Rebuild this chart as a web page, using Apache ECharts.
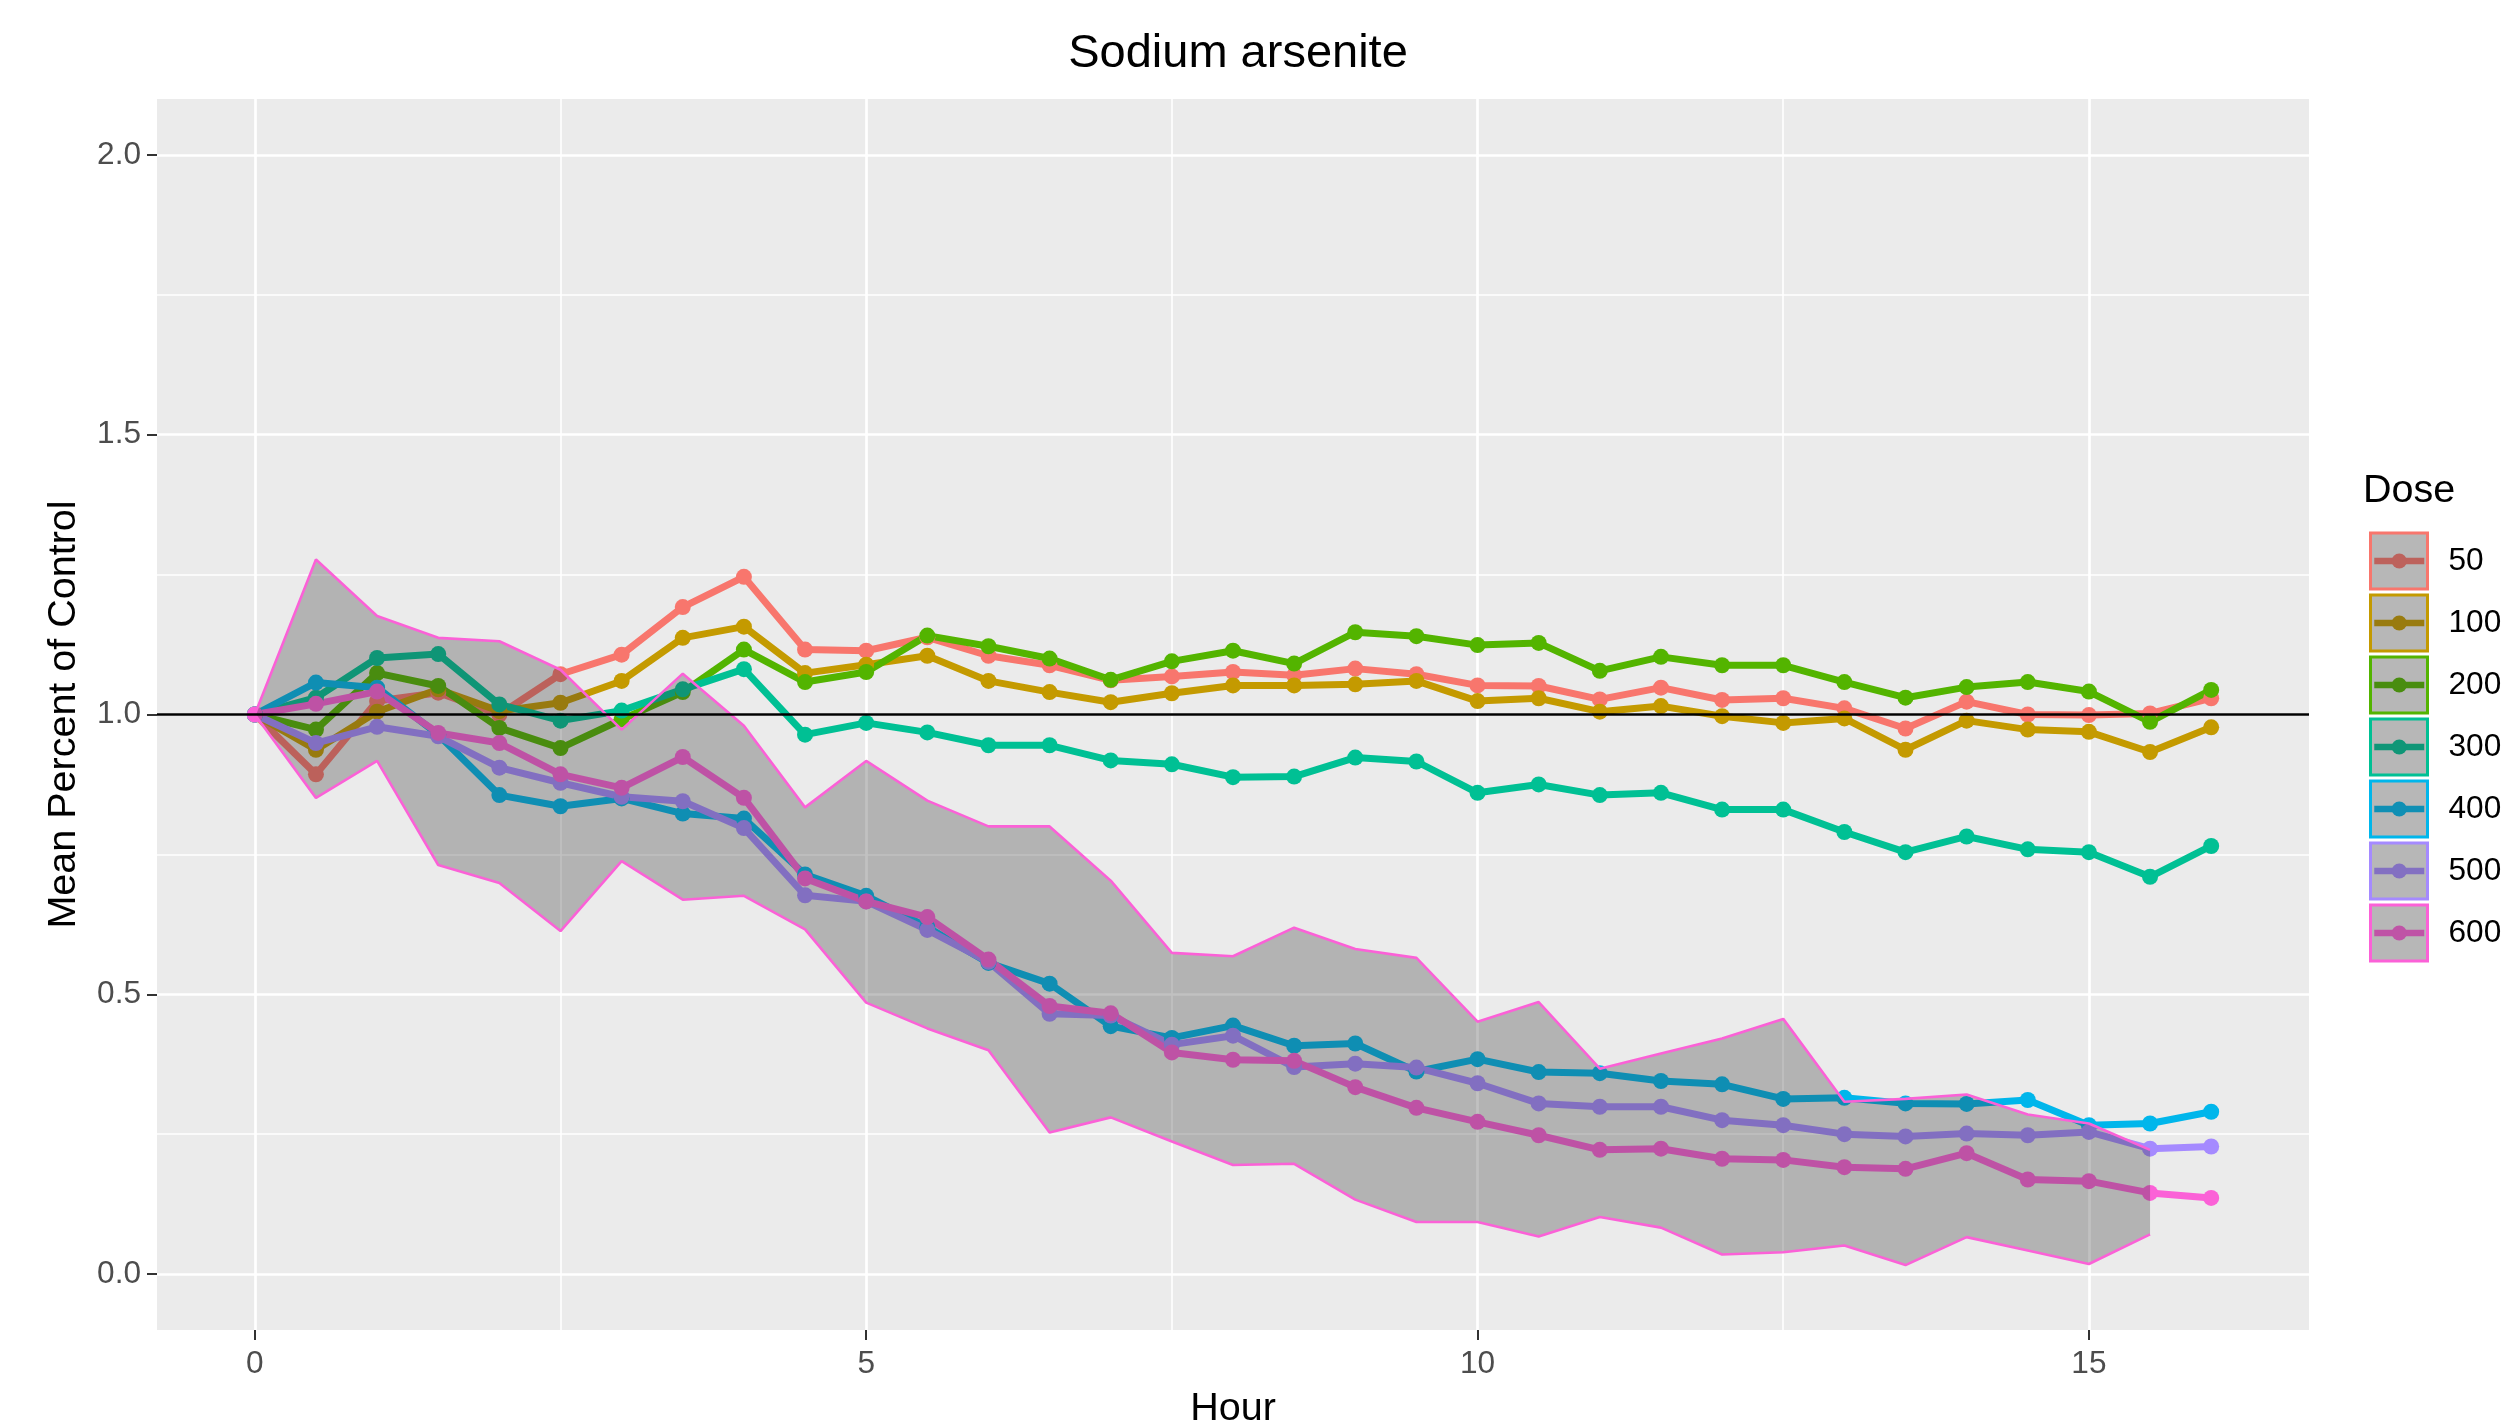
<!DOCTYPE html>
<html><head><meta charset="utf-8">
<script src="https://cdn.jsdelivr.net/npm/echarts@6/dist/echarts.min.js"></script>
<style>html,body{margin:0;padding:0;background:#fff}#c{width:2506px;height:1424px}</style>
</head><body><div id="c"></div>
<script>
const hours = [0,0.5,1,1.5,2,2.5,3,3.5,4,4.5,5,5.5,6,6.5,7,7.5,8,8.5,9,9.5,10,10.5,11,11.5,12,12.5,13,13.5,14,14.5,15,15.5,16];
const doseNames = ['50','100','200','300','400','500','600'];
const dose50  = [1.0,0.893,1.024,1.039,1.0,1.072,1.107,1.192,1.246,1.116,1.114,1.138,1.105,1.088,1.061,1.068,1.076,1.07,1.082,1.072,1.052,1.051,1.027,1.048,1.026,1.029,1.011,0.975,1.023,1.0,0.999,1.002,1.029];
const dose100 = [1.0,0.937,1.005,1.045,1.006,1.021,1.06,1.137,1.157,1.074,1.089,1.105,1.06,1.04,1.022,1.038,1.052,1.052,1.054,1.06,1.024,1.029,1.005,1.015,0.997,0.985,0.993,0.937,0.989,0.973,0.969,0.933,0.977];
const dose200 = [1.0,0.973,1.074,1.051,0.976,0.94,0.991,1.04,1.116,1.058,1.076,1.141,1.122,1.10,1.062,1.095,1.114,1.091,1.147,1.14,1.124,1.128,1.078,1.103,1.088,1.088,1.058,1.03,1.049,1.058,1.041,0.987,1.044];
const dose300 = [1.0,1.03,1.101,1.108,1.018,0.989,1.007,1.045,1.081,0.964,0.985,0.968,0.945,0.945,0.918,0.911,0.888,0.889,0.923,0.916,0.86,0.875,0.856,0.86,0.83,0.83,0.79,0.754,0.782,0.759,0.754,0.71,0.765];
const dose400 = [1.0,1.057,1.048,0.964,0.856,0.836,0.85,0.823,0.814,0.714,0.676,0.62,0.556,0.519,0.443,0.422,0.444,0.408,0.412,0.362,0.384,0.361,0.359,0.345,0.339,0.313,0.315,0.305,0.304,0.311,0.266,0.269,0.29];
const dose500 = [1.0,0.949,0.978,0.961,0.905,0.878,0.853,0.845,0.797,0.677,0.666,0.615,0.558,0.465,0.462,0.41,0.426,0.37,0.376,0.369,0.341,0.305,0.299,0.299,0.275,0.266,0.25,0.246,0.251,0.248,0.254,0.224,0.228];
const dose600 = [1.0,1.019,1.041,0.967,0.949,0.893,0.869,0.924,0.851,0.707,0.666,0.638,0.562,0.479,0.466,0.396,0.383,0.381,0.334,0.297,0.272,0.248,0.222,0.224,0.206,0.204,0.191,0.188,0.216,0.169,0.166,0.145,0.136];
const ribbonHours = [0,0.5,1,1.5,2,2.5,3,3.5,4,4.5,5,5.5,6,6.5,7,7.5,8,8.5,9,9.5,10,10.5,11,11.5,12,12.5,13,13.5,14,14.5,15,15.5];
const ribbonUpper = [1.0,1.277,1.176,1.137,1.131,1.08,0.973,1.073,0.98,0.834,0.917,0.846,0.80,0.80,0.703,0.574,0.568,0.619,0.581,0.565,0.451,0.486,0.367,0.394,0.421,0.456,0.308,0.313,0.321,0.285,0.269,0.222];
const ribbonLower = [1.0,0.851,0.917,0.731,0.699,0.613,0.738,0.669,0.676,0.616,0.485,0.439,0.40,0.253,0.28,0.237,0.195,0.197,0.133,0.093,0.093,0.067,0.102,0.083,0.035,0.039,0.051,0.016,0.066,0.042,0.018,0.071];
const xMajorTicks = [0,5,10,15];
const xMinorTicks = [2.5,7.5,12.5];
const yMajorTicks = [0,0.5,1,1.5,2];
const yTickLabels = ['0.0','0.5','1.0','1.5','2.0'];
const yMinorTicks = [0.25,0.75,1.25,1.75];
const refLine = [1];

const doseValues = [dose50,dose100,dose200,dose300,dose400,dose500,dose600];
const colors = ['#F8766D','#C49A00','#53B400','#00C094','#00B6EB','#A58AFF','#FB61D7'];
const muted  = ['#BD625C','#997B0F','#498D0F','#0F9677','#0F8FB4','#8370C2','#BF53A6'];
const FONT = "'Liberation Sans', Arial, sans-serif";

const chart = echarts.init(document.getElementById('c'), null, {renderer:'canvas'});

const lineSeries = doseNames.map((n,i)=>({
  type:'line', name:n,
  data: hours.map((h,j)=>[h, doseValues[i][j]]),
  symbol:'circle', symbolSize:16, showSymbol:true,
  lineStyle:{width:7, color:colors[i]},
  itemStyle:{color:colors[i]},
  z:2, silent:true, emphasis:{disabled:true}
}));

const ribbon = {
  type:'custom', name:'ribbon', silent:true, z:3,
  data: ribbonHours.map((h,i)=>[h, ribbonLower[i], ribbonUpper[i]]),
  encode:{x:0, y:[1,2]},
  renderItem:(params, api)=>{
    if (params.dataIndex !== 0) return null;
    const top = ribbonHours.map((h,i)=>api.coord([h, ribbonUpper[i]]));
    const bot = ribbonHours.map((h,i)=>api.coord([h, ribbonLower[i]])).reverse();
    return {type:'polygon', shape:{points: top.concat(bot)}, style:{fill:'rgba(51,51,51,0.3)'}};
  }
};
const edgeUpper = {type:'line', name:'edgeUpper', data: ribbonHours.map((h,i)=>[h, ribbonUpper[i]]),
  symbol:'none', lineStyle:{color:'#FB61D7', width:2.6}, z:4, silent:true};
const edgeLower = {type:'line', name:'edgeLower', data: ribbonHours.map((h,i)=>[h, ribbonLower[i]]),
  symbol:'none', lineStyle:{color:'#FB61D7', width:2.6}, z:4, silent:true,
  markLine:{silent:true, symbol:['none','none'], label:{show:false},
    lineStyle:{color:'#000', width:2.6, type:'solid'},
    data: refLine.map(v=>({yAxis:v})), animation:false}
};

const option = {
  animation:false,
  textStyle:{fontFamily:FONT},
  title:[
    {text:'Sodium arsenite', left:1233, textAlign:'center', top:26,
     textStyle:{fontSize:47, fontWeight:'normal', color:'#000', fontFamily:FONT}},
    {text:'Dose', left:2358, top:466,
     textStyle:{fontSize:39.5, fontWeight:'normal', color:'#000', fontFamily:FONT}}
  ],
  grid:{left:157, right:197, top:99, bottom:94, show:true, backgroundColor:'#EBEBEB', borderWidth:0,
        containLabel:false, outerBoundsMode:'none'},
  xAxis:[
    {type:'value', min:-0.8, max:16.8,
     axisLine:{show:false, onZero:false},
     axisTick:{show:true, customValues:xMajorTicks, length:10, lineStyle:{color:'#333333', width:2}},
     axisLabel:{customValues:xMajorTicks, margin:18, fontSize:31.6, color:'#4D4D4D', fontFamily:FONT},
     splitLine:{show:true, lineStyle:{color:'#FFFFFF', width:2.7}},
     name:'Hour', nameLocation:'middle', nameGap:59,
     nameTextStyle:{fontSize:39.5, color:'#000', fontFamily:FONT}},
    {type:'value', min:-0.8, max:16.8, position:'bottom',
     axisLine:{show:false, onZero:false}, axisTick:{show:false, customValues:xMinorTicks},
     axisLabel:{show:false, customValues:xMinorTicks},
     splitLine:{show:true, lineStyle:{color:'#FFFFFF', width:1.6}}}
  ],
  yAxis:[
    {type:'value', min:-0.1, max:2.1,
     axisLine:{show:false, onZero:false},
     axisTick:{show:true, customValues:yMajorTicks, length:10, lineStyle:{color:'#333333', width:2}},
     axisLabel:{customValues:yMajorTicks, margin:16, fontSize:31.6, color:'#4D4D4D', fontFamily:FONT,
       formatter:(v)=>{const k=yMajorTicks.indexOf(v); return k>=0?yTickLabels[k]:'';}},
     splitLine:{show:true, lineStyle:{color:'#FFFFFF', width:2.7}},
     name:'Mean Percent of Control', nameLocation:'middle', nameGap:73, nameRotate:90,
     nameTextStyle:{fontSize:39.5, color:'#000', fontFamily:FONT}},
    {type:'value', min:-0.1, max:2.1, position:'left',
     axisLine:{show:false, onZero:false}, axisTick:{show:false, customValues:yMinorTicks},
     axisLabel:{show:false, customValues:yMinorTicks},
     splitLine:{show:true, lineStyle:{color:'#FFFFFF', width:1.6}}}
  ],
  legend:[
    {data: doseNames.map((n,i)=>({name:n, icon:'rect', itemStyle:{color:'#B7B7B7', borderColor:colors[i], borderWidth:3}})),
     orient:'vertical', left:2364, top:525, itemWidth:57, itemHeight:56, itemGap:0, selectedMode:false,
     textStyle:{fontSize:31.6, color:'#000', lineHeight:62, padding:[0,0,0,16], fontFamily:FONT}},
    {data: doseNames.map((n,i)=>({name:n, itemStyle:{color:muted[i]}, lineStyle:{color:muted[i], width:6.5}})),
     orient:'vertical', left:2366, top:525, itemWidth:50, itemHeight:19, itemGap:0, selectedMode:false,
     textStyle:{fontSize:31.6, color:'rgba(0,0,0,0)', lineHeight:62, fontFamily:FONT}}
  ],
  series: lineSeries.concat([ribbon, edgeUpper, edgeLower])
};
chart.setOption(option);
</script></body></html>
